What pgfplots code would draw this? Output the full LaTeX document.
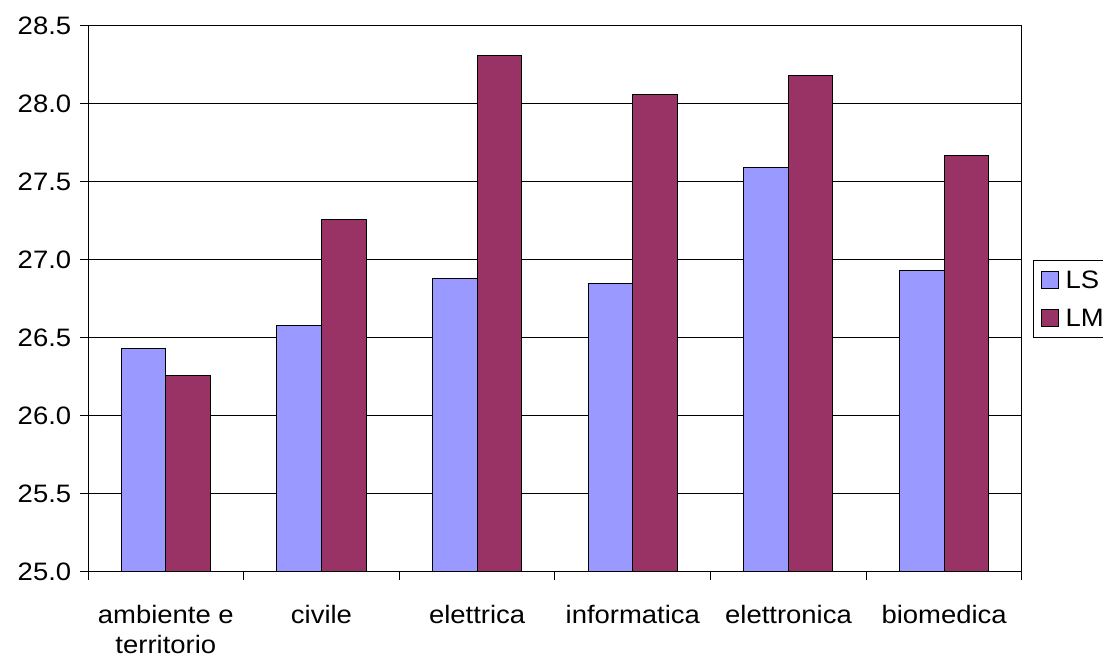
\documentclass[border=0pt]{standalone}
\usepackage{fontspec}
\setmainfont{Liberation Sans}[FakeStretch=1.09]
\usepackage{pgfplots}
\pgfplotsset{compat=1.18}

\definecolor{colLS}{HTML}{9999FF}
\definecolor{colLM}{HTML}{993366}

\begin{document}
\fontsize{12.6}{15}\selectfont
\begin{tikzpicture}
\begin{axis}[
    at={(44pt,42pt)}, anchor=south west,
    scale only axis,
    width=467pt, height=273pt,
    ybar=0pt, bar width=22.25pt,
    xmin=-0.5, xmax=5.5,
    ymin=25, ymax=28.5,
    ytick={25,25.5,...,28.5},
    yticklabel style={/pgf/number format/.cd, fixed, fixed zerofill, precision=1},
    /pgf/number format/assume math mode=true,
    xtick={0,...,5},
    xticklabels={ambiente e\\territorio,civile,elettrica,informatica,elettronica,biomedica},
    xticklabel style={align=center, yshift=-8pt},
    major x tick style={draw=none},
    minor xtick={-0.5,0.5,...,5.5},
    tick align=outside,
    major tick length=4pt, minor tick length=4pt,
    tick pos=left,
    tick style={black, line width=0.5pt},
    ymajorgrids,
    grid style={black, line width=0.5pt},
    axis line style={black, line width=0.5pt},
    legend style={at={(1.0118,0.5714)}, anchor=north west, draw=black, line width=0.5pt,
        font=\fontsize{12.6}{15}\selectfont, row sep=10pt, column sep=3.5pt,
        inner xsep=3.5pt, inner ysep=5.2pt,
        nodes={inner sep=0pt, text height=9pt, text depth=0pt}},
    legend cell align=left,
    legend image code/.code={\draw[#1, line width=0.5pt] (0pt,-4.25pt) rectangle (8.5pt,4.25pt);},
    every axis plot/.append style={draw=black, line width=0.5pt},
]
\addplot[fill=colLS] coordinates {(0,26.43) (1,26.58) (2,26.88) (3,26.85) (4,27.59) (5,26.93)};
\addplot[fill=colLM] coordinates {(0,26.26) (1,27.26) (2,28.31) (3,28.06) (4,28.18) (5,27.67)};
\legend{LS,LM}
\end{axis}
\pgfresetboundingbox
\path (0,0) rectangle (551.5pt,328pt);
\end{tikzpicture}
\end{document}
